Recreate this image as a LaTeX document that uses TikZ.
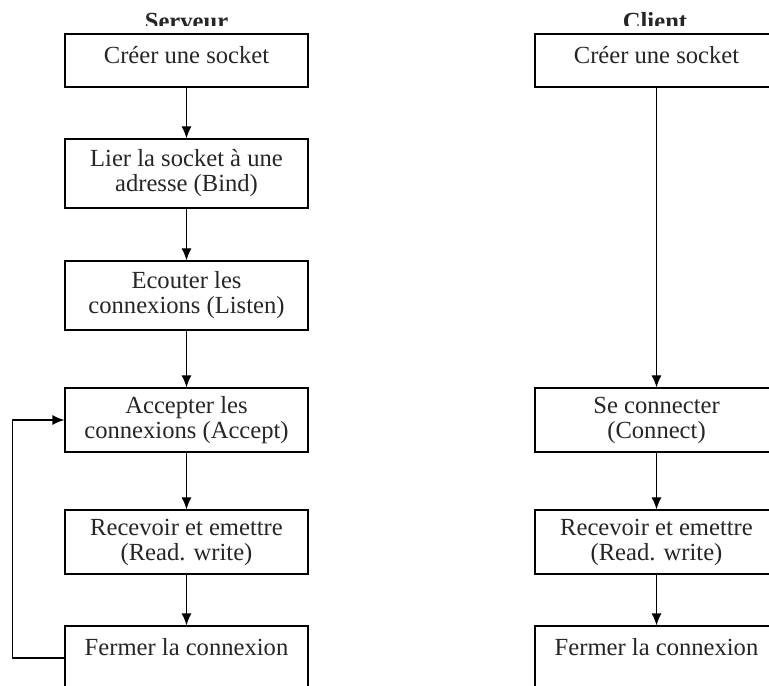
\documentclass[tikz,border=0pt]{standalone}
\usepackage{fontspec}
\setmainfont{Liberation Serif}
\usetikzlibrary{arrows.meta}
\begin{document}
\begin{tikzpicture}[>={Latex[length=2.4mm,width=2mm]},line width=0.7pt,
  etape/.style={draw,fill=white,text=black!85,minimum width=4.86cm,align=center,inner sep=0pt,font=\fontsize{14pt}{14.2pt}\selectfont},
  uneligne/.style={text height=0.37cm,text depth=0.23cm},
  titre/.style={anchor=base,text=black!85,font=\bfseries\fontsize{14pt}{14pt}\selectfont}]
\clip (0,0) rectangle (15.38,-13.72);
\begin{scope}
\clip (0,0) rectangle (15.38,-0.52);
\node[titre] (serveur) at (3.73,-0.59) {Serveur};
\node[titre] (client) at (13.1,-0.59) {Client};
\end{scope}
\node[etape,uneligne,minimum height=1.06cm] (s1) at (3.73,-1.21) {Créer une socket};
\node[etape,minimum height=1.38cm] (s2) at (3.73,-3.47) {Lier la socket à une\\adresse (Bind)};
\node[etape,minimum height=1.38cm] (s3) at (3.73,-5.91) {Ecouter les\\connexions (Listen)};
\node[etape,minimum height=1.28cm] (s4) at (3.73,-8.4) {Accepter les\\connexions (Accept)};
\node[etape,minimum height=1.28cm] (s5) at (3.73,-10.84) {Recevoir et emettre\\(Read. write)};
\node[etape,minimum height=1.28cm,text height=0.37cm,text depth=0.49cm] (s6) at (3.73,-13.16) {Fermer la connexion};
\node[etape,uneligne,minimum height=1.06cm] (c1) at (13.13,-1.21) {Créer une socket};
\node[etape,minimum height=1.28cm] (c2) at (13.13,-8.4) {Se connecter\\(Connect)};
\node[etape,minimum height=1.28cm] (c3) at (13.13,-10.84) {Recevoir et emettre\\(Read. write)};
\node[etape,minimum height=1.28cm,text height=0.37cm,text depth=0.49cm] (c4) at (13.13,-13.16) {Fermer la connexion};
\foreach \a/\b in {s1/s2,s2/s3,s3/s4,s4/s5,s5/s6,c1/c2,c2/c3,c3/c4}
  \draw[->] (\a) -- (\b);
\draw[->] (s6.west) -- ++(-1.04,0) |- (s4.west);
\end{tikzpicture}
\end{document}
